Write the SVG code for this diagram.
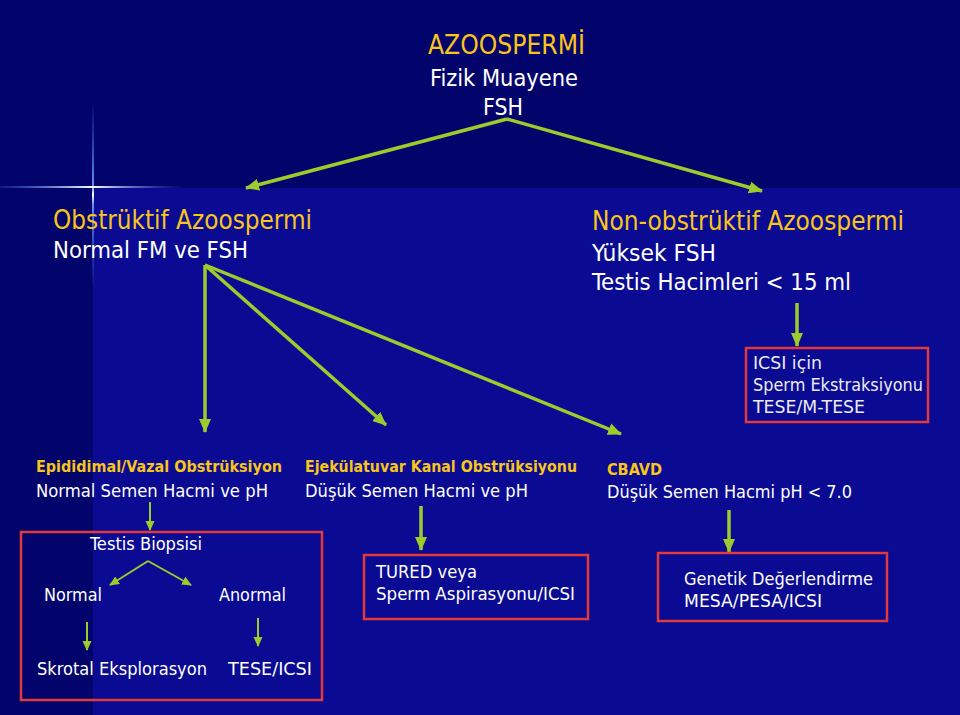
<svg xmlns="http://www.w3.org/2000/svg" width="960" height="715" viewBox="0 0 960 715">
<defs>
<style>
text{font-family:"DejaVu Sans Condensed","DejaVu Sans","Liberation Sans",sans-serif;}
.y{fill:#f7c51c;}
.w{fill:#ffffff;}
.b{fill:#ececf4;}
.yb{fill:#f7c51c;font-weight:bold;font-size:15px;}
.box{fill:none;stroke:#e23a3a;stroke-width:2.5;}
.c{stroke:#9ccc2c;fill:none;stroke-width:3.5;}
.cs{stroke:#9ccc2c;fill:none;stroke-width:2;}
</style>
<marker id="ah" markerUnits="userSpaceOnUse" markerWidth="14" markerHeight="14" viewBox="0 0 14 14" refX="13" refY="7" orient="auto">
<path d="M0,1 L14,7 L0,13 Z" fill="#9ccc2c"/>
</marker>
<marker id="ahs" markerUnits="userSpaceOnUse" markerWidth="10" markerHeight="10" viewBox="0 0 10 10" refX="9" refY="5" orient="auto">
<path d="M0,0.5 L10,5 L0,9.5 Z" fill="#9ccc2c"/>
</marker>
<linearGradient id="vg" x1="0" y1="0" x2="0" y2="1">
<stop offset="0" stop-color="#3a7cff" stop-opacity="0"/>
<stop offset="0.45" stop-color="#6aa0ff" stop-opacity="0.9"/>
<stop offset="0.5" stop-color="#ffffff"/>
<stop offset="0.55" stop-color="#6aa0ff" stop-opacity="0.9"/>
<stop offset="1" stop-color="#3a7cff" stop-opacity="0"/>
</linearGradient>
<linearGradient id="hg" x1="0" y1="0" x2="1" y2="0">
<stop offset="0" stop-color="#3a7cff" stop-opacity="0.2"/>
<stop offset="0.5" stop-color="#ffffff"/>
<stop offset="1" stop-color="#3a7cff" stop-opacity="0"/>
</linearGradient>
</defs>
<g id="background">
<rect x="0" y="0" width="960" height="715" fill="#03036c"/>
<rect x="93" y="188" width="867" height="527" fill="#0a0a92"/>
<rect x="92" y="100" width="2" height="190" fill="url(#vg)"/>
<rect x="0" y="186" width="185" height="2" fill="url(#hg)"/>
<rect x="92" y="186" width="2" height="2" fill="#ffffff"/>
</g>
<g id="connectors">
<line class="c" x1="507" y1="119" x2="246" y2="188" marker-end="url(#ah)"/>
<line class="c" x1="507" y1="119" x2="762" y2="191" marker-end="url(#ah)"/>
<line class="c" x1="205" y1="265" x2="205" y2="432" marker-end="url(#ah)"/>
<line class="c" x1="205" y1="265" x2="386" y2="425" marker-end="url(#ah)"/>
<line class="c" x1="205" y1="265" x2="621" y2="434" marker-end="url(#ah)"/>
<line class="c" x1="797" y1="303" x2="797" y2="346" marker-end="url(#ah)"/>
<line class="cs" x1="150" y1="502" x2="150" y2="530" marker-end="url(#ahs)"/>
<line class="cs" x1="148" y1="561" x2="110" y2="585" marker-end="url(#ahs)"/>
<line class="cs" x1="148" y1="561" x2="191" y2="585" marker-end="url(#ahs)"/>
<line class="cs" x1="87" y1="622" x2="87" y2="650" marker-end="url(#ahs)"/>
<line class="cs" x1="258" y1="618" x2="258" y2="646" marker-end="url(#ahs)"/>
<line class="c" x1="421" y1="506" x2="421" y2="550" marker-end="url(#ah)"/>
<line class="c" x1="729" y1="510" x2="729" y2="552" marker-end="url(#ah)"/>
</g>
<g id="azoospermi">
<text class="y" x="428" y="54" font-size="26" textLength="157" lengthAdjust="spacingAndGlyphs">AZOOSPERMİ</text>
<text class="w" x="430" y="86" font-size="23" textLength="148" lengthAdjust="spacingAndGlyphs">Fizik Muayene</text>
<text class="w" x="483" y="115" font-size="23" textLength="40" lengthAdjust="spacingAndGlyphs">FSH</text>
</g>
<g id="obstruktif">
<text class="y" x="53" y="229" font-size="26" textLength="259" lengthAdjust="spacingAndGlyphs">Obstrüktif Azoospermi</text>
<text class="w" x="53" y="258" font-size="23" textLength="195" lengthAdjust="spacingAndGlyphs">Normal FM ve FSH</text>
</g>
<g id="nonobstruktif">
<text class="y" x="592" y="230" font-size="26" textLength="312" lengthAdjust="spacingAndGlyphs">Non-obstrüktif Azoospermi</text>
<text class="w" x="592" y="261" font-size="23" textLength="124" lengthAdjust="spacingAndGlyphs">Yüksek FSH</text>
<text class="w" x="592" y="290" font-size="23" textLength="259" lengthAdjust="spacingAndGlyphs">Testis Hacimleri &lt; 15 ml</text>
</g>
<g id="icsi">
<rect class="box" x="746" y="348" width="182" height="74"/>
<text class="b" x="753" y="369" font-size="17" textLength="69" lengthAdjust="spacingAndGlyphs">ICSI için</text>
<text class="b" x="753" y="391" font-size="17" textLength="170" lengthAdjust="spacingAndGlyphs">Sperm Ekstraksiyonu</text>
<text class="b" x="753" y="413" font-size="17" textLength="112" lengthAdjust="spacingAndGlyphs">TESE/M-TESE</text>
</g>
<g id="epididimal">
<text class="yb" x="36" y="472" textLength="246" lengthAdjust="spacingAndGlyphs">Epididimal/Vazal Obstrüksiyon</text>
<text class="w" x="36" y="497" font-size="18" textLength="232" lengthAdjust="spacingAndGlyphs">Normal Semen Hacmi ve pH</text>
</g>
<g id="ejekulatuvar">
<text class="yb" x="305" y="472" textLength="272" lengthAdjust="spacingAndGlyphs">Ejekülatuvar Kanal Obstrüksiyonu</text>
<text class="w" x="305" y="497" font-size="18" textLength="223" lengthAdjust="spacingAndGlyphs">Düşük Semen Hacmi ve pH</text>
</g>
<g id="cbavd">
<text class="yb" x="607" y="475" textLength="55" lengthAdjust="spacingAndGlyphs">CBAVD</text>
<text class="w" x="607" y="498" font-size="18" textLength="245" lengthAdjust="spacingAndGlyphs">Düşük Semen Hacmi pH &lt; 7.0</text>
</g>
<g id="biopsi">
<rect class="box" x="21" y="532" width="301" height="168"/>
<text class="w" x="90" y="550" font-size="18" textLength="112" lengthAdjust="spacingAndGlyphs">Testis Biopsisi</text>
<text class="w" x="44" y="601" font-size="18" textLength="58" lengthAdjust="spacingAndGlyphs">Normal</text>
<text class="w" x="219" y="601" font-size="18" textLength="67" lengthAdjust="spacingAndGlyphs">Anormal</text>
<text class="w" x="37" y="675" font-size="18" textLength="170" lengthAdjust="spacingAndGlyphs">Skrotal Eksplorasyon</text>
<text class="w" x="228" y="675" font-size="18" textLength="84" lengthAdjust="spacingAndGlyphs">TESE/ICSI</text>
</g>
<g id="tured">
<rect class="box" x="364" y="555" width="224" height="64"/>
<text class="w" x="376" y="578" font-size="18" textLength="101" lengthAdjust="spacingAndGlyphs">TURED veya</text>
<text class="w" x="376" y="600" font-size="18" textLength="199" lengthAdjust="spacingAndGlyphs">Sperm Aspirasyonu/ICSI</text>
</g>
<g id="genetik">
<rect class="box" x="658" y="553" width="229" height="68"/>
<text class="w" x="684" y="585" font-size="18" textLength="189" lengthAdjust="spacingAndGlyphs">Genetik Değerlendirme</text>
<text class="w" x="684" y="607" font-size="18" textLength="138" lengthAdjust="spacingAndGlyphs">MESA/PESA/ICSI</text>
</g>
</svg>
